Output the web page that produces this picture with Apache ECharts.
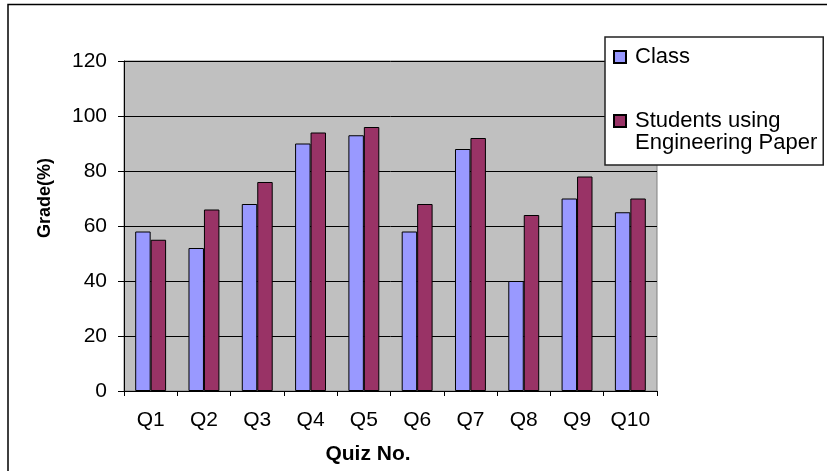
<!DOCTYPE html>
<html>
<head>
<meta charset="utf-8">
<script src="https://cdn.jsdelivr.net/npm/echarts@6/dist/echarts.min.js"></script>
<style>
  html, body { margin: 0; padding: 0; background: #fff; }
  #chart { width: 827px; height: 471px; }
</style>
</head>
<body>
<div id="chart"></div>
<script>
// Quiz grades: whole class vs. students who used engineering paper
const quizzes = ['Q1', 'Q2', 'Q3', 'Q4', 'Q5', 'Q6', 'Q7', 'Q8', 'Q9', 'Q10'];
const classGrades = [58, 52, 68, 90, 93, 58, 88, 40, 70, 65];
const paperGrades = [55, 66, 76, 94, 96, 68, 92, 64, 78, 70];
const seriesNames = ['Class', 'Students using Engineering Paper'];
const gradeTicks = { min: 0, max: 120, step: 20 };

const FONT = '"Liberation Sans", Arial, sans-serif';

const chart = echarts.init(document.getElementById('chart'), null, { renderer: 'canvas' });

chart.setOption({
  backgroundColor: '#ffffff',
  animation: false,
  textStyle: { fontFamily: FONT, color: '#000' },
  grid: {
    left: 124, right: 170, top: 61, bottom: 80,
    show: true,
    backgroundColor: '#C0C0C0',
    borderColor: '#808080',
    borderWidth: 1
  },
  legend: {
    orient: 'vertical',
    left: 605, top: 37,
    padding: [9, 6, 11, 8],
    itemWidth: 12, itemHeight: 12, itemGap: 20,
    icon: 'rect',
    backgroundColor: '#ffffff',
    borderColor: '#222',
    borderWidth: 1.5,
    textStyle: { fontFamily: FONT, fontSize: 22, color: '#000', lineHeight: 22, padding: [0, 0, 0, 4] },
    // the leading blank line keeps the swatch level with the first text line
    formatter: name => name === seriesNames[1] ? '\nStudents using\nEngineering Paper' : name,
    data: seriesNames
  },
  xAxis: {
    type: 'category',
    data: quizzes,
    boundaryGap: true,
    axisLine: { show: true, lineStyle: { color: '#000', width: 1 } },
    axisTick: { show: true, length: 5, lineStyle: { color: '#000' } },
    axisLabel: { fontFamily: FONT, fontSize: 21, color: '#000', margin: 19 },
    splitLine: { show: false },
    name: 'Quiz No.',
    nameLocation: 'middle',
    nameGap: 53,
    nameTextStyle: { fontFamily: FONT, fontSize: 21, fontWeight: 'bold', color: '#000', padding: [0, 45, 0, 0] }
  },
  yAxis: {
    type: 'value',
    min: gradeTicks.min, max: gradeTicks.max, interval: gradeTicks.step,
    axisLine: { show: true, lineStyle: { color: '#000', width: 1 } },
    axisTick: { show: true, length: 6, lineStyle: { color: '#000' } },
    axisLabel: { fontFamily: FONT, fontSize: 21, color: '#000', margin: 17 },
    splitLine: { show: true, lineStyle: { color: '#000', width: 1 } },
    name: 'Grade(%)',
    nameLocation: 'middle',
    nameGap: 70,
    nameTextStyle: { fontFamily: FONT, fontSize: 18, fontWeight: 'bold', color: '#000', padding: [0, 0, 0, 56] }
  },
  series: [
    {
      name: seriesNames[0],
      type: 'bar',
      data: classGrades,
      barGap: '0%',
      barCategoryGap: '42%',
      itemStyle: { color: '#9999FF', borderColor: '#000', borderWidth: 1 }
    },
    {
      name: seriesNames[1],
      type: 'bar',
      data: paperGrades,
      barGap: '0%',
      barCategoryGap: '42%',
      itemStyle: { color: '#993366', borderColor: '#000', borderWidth: 1 }
    }
  ],
  graphic: [
    {
      type: 'polyline',
      silent: true,
      z: -1,
      shape: { points: [[8, 471], [8, 4.5], [827, 4.5]] },
      style: { stroke: '#000', lineWidth: 1.5, fill: null }
    }
  ]
});
</script>
</body>
</html>
